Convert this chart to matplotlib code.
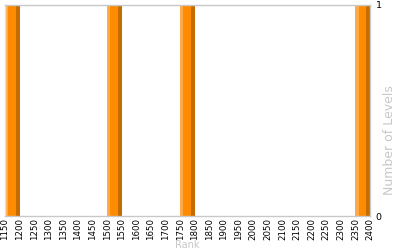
import matplotlib
matplotlib.use("Agg")
import matplotlib.pyplot as plt
import numpy as np

# histogram bins (left edge of rank bin) and counts
bin_left = [1150, 1500, 1750, 2350]
bin_count = [1, 1, 1, 1]
bin_width = 50
x_ticks = list(range(1150, 2401, 50))
y_ticks = [0, 1]

fig = plt.figure(figsize=(4, 2.5), dpi=100)
ax = fig.add_axes([0.0125, 0.136, 0.9125, 0.844])

left = np.array(bin_left, dtype=float)
h = np.array(bin_count, dtype=float)
# main bar, then light highlight on the left and dark shade on the right
ax.bar(left, h, width=bin_width, align='edge', color='#FF8C00', linewidth=0)
ax.bar(left, h, width=bin_width * 0.22, align='edge', color='#FFAA4A', linewidth=0)
ax.bar(left + bin_width * 0.76, h, width=bin_width * 0.24, align='edge', color='#C46C00', linewidth=0)

ax.set_xlim(1150, 2400)
ax.set_ylim(0, 1)
ax.set_xticks(x_ticks)
ax.set_xticklabels([str(t) for t in x_ticks], rotation=90, fontsize=6.2)
ax.yaxis.tick_right()
ax.set_yticks(y_ticks)
ax.set_yticklabels([str(t) for t in y_ticks], fontsize=6.8)
ax.tick_params(axis='x', length=0, pad=1.5)
ax.tick_params(axis='y', length=0, pad=4)

for s in ax.spines.values():
    s.set_color('#C8C8C8')
    s.set_linewidth(1)
ax.spines['left'].set_color('#E4E4E4')

# axis titles, light grey like the reference
fig.text(0.4675, 0.0, "Rank", color='#C8C8C8', fontsize=7, ha='center', va='bottom')
ax.yaxis.set_label_position('right')
ax.set_ylabel("Number of Levels", color='#C8C8C8', fontsize=9, rotation=90)
ax.yaxis.set_label_coords(1.035, 0.36)

fig.savefig("out.png", dpi=100)
